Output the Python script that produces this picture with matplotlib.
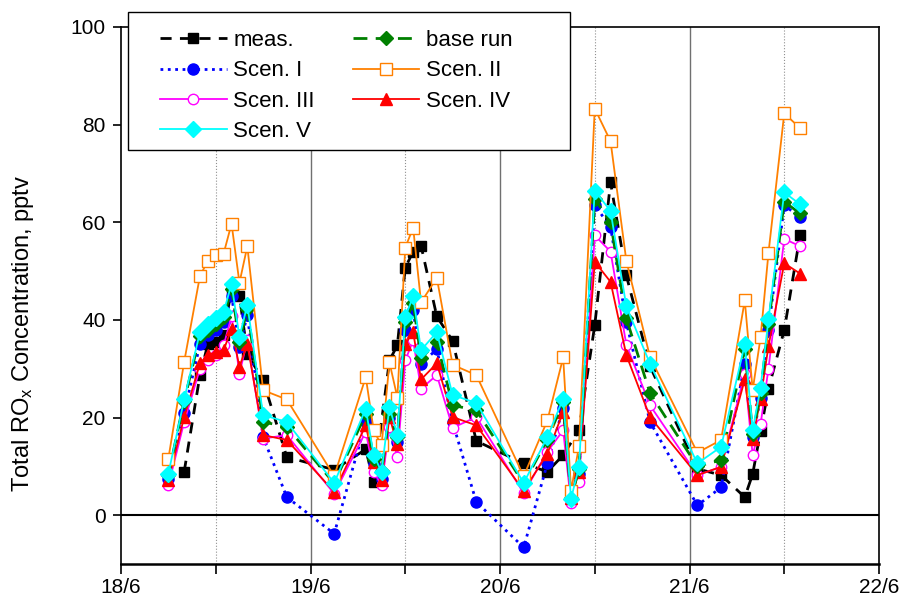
import matplotlib.pyplot as plt
import matplotlib.patches as mpatches
import numpy as np

plt.rcParams['font.family'] = ['Liberation Sans', 'DejaVu Sans']
plt.rcParams['mathtext.default'] = 'regular'

# model output times, hours since 18/6 00:00
t_mod = [6, 8, 10, 11, 12, 13, 14, 15, 16, 18, 21,
         27, 31, 32, 33, 34, 35, 36, 37, 38, 40, 42, 45,
         51, 54, 56, 57, 58, 60, 62, 64, 67,
         73, 76, 79, 80, 81, 82, 84, 86]

# measurement times
t_meas = [8, 10, 11, 12, 13, 14, 15, 16, 18, 21,
          27, 31, 32, 34, 35, 36, 37, 38, 40, 42, 45,
          51, 54, 56, 58, 60, 62, 64, 67,
          73, 76, 79, 80, 81, 82, 84, 86]

meas = [8.9, 28.7, 35.0, 35.5, 37.0, 46.4, 45.0, 33.0, 27.6, 11.9,
        9.3, 13.5, 6.8, 31.7, 34.8, 50.7, 54.0, 55.2, 40.7, 35.7, 15.2,
        10.6, 8.9, 12.3, 17.4, 38.9, 68.2, 49.1, 30.5,
        9.5, 8.2, 3.7, 8.4, 17.2, 25.9, 37.9, 57.3]

base_run = [8.3, 23.4, 36.8, 38.0, 39.2, 40.5, 46.4, 35.5, 42.3, 19.1, 18.1,
            6.5, 20.8, 11.5, 9.0, 20.8, 16.0, 39.5, 43.5, 32.1, 35.5, 22.5, 21.5,
            6.5, 15.5, 23.2, 3.5, 9.5, 64.8, 60.0, 40.3, 25.0,
            10.0, 11.3, 34.1, 16.7, 25.0, 39.2, 64.2, 61.8]

scen1 = [7.5, 21.0, 35.0, 37.0, 38.0, 39.5, 45.0, 34.5, 41.0, 16.0, 3.7,
         -3.8, 19.0, 10.5, 7.5, 20.0, 15.0, 38.0, 42.0, 31.0, 34.0, 19.0, 2.7,
         -6.6, 10.6, 22.0, 3.5, 8.5, 63.5, 59.0, 39.5, 19.1,
         2.0, 5.7, 31.0, 16.0, 24.0, 38.0, 63.5, 61.0]

scen2 = [11.6, 31.4, 49.0, 52.1, 53.2, 53.6, 59.7, 47.6, 55.1, 25.6, 23.7,
         8.0, 28.3, 17.4, 14.3, 31.3, 24.1, 54.8, 58.9, 43.6, 48.6, 30.8, 28.7,
         8.0, 19.4, 32.3, 5.0, 14.1, 83.3, 76.6, 52.1, 32.4,
         12.8, 15.4, 44.0, 25.6, 36.4, 53.7, 82.3, 79.3]

scen3 = [6.1, 19.1, 30.0, 31.7, 32.8, 34.8, 40.7, 29.0, 35.8, 15.7, 16.4,
         4.4, 17.1, 8.9, 6.1, 18.1, 11.9, 31.7, 35.8, 25.9, 28.7, 17.9, 20.1,
         4.5, 13.0, 17.4, 2.4, 6.8, 57.3, 54.0, 34.9, 22.5,
         8.2, 9.9, 29.0, 12.3, 18.6, 30.0, 56.6, 55.1]

scen4 = [7.2, 20.1, 31.1, 32.8, 33.4, 33.8, 38.2, 30.4, 35.1, 16.4, 15.4,
         4.8, 18.4, 10.9, 7.2, 20.1, 14.5, 35.1, 37.5, 27.8, 31.1, 20.1, 18.4,
         5.0, 12.6, 21.2, 3.5, 8.9, 51.9, 47.8, 32.8, 20.1,
         8.2, 9.9, 27.8, 15.7, 23.9, 34.6, 51.6, 49.5]

scen5 = [8.5, 23.7, 37.5, 39.2, 40.3, 41.6, 47.4, 36.5, 43.1, 20.5, 19.1,
         6.6, 21.8, 12.3, 8.9, 22.2, 16.4, 40.6, 44.8, 33.8, 37.5, 24.6, 23.0,
         6.6, 16.0, 23.9, 3.4, 9.9, 66.5, 62.3, 42.8, 31.0,
         10.6, 14.0, 35.0, 17.4, 26.1, 40.1, 66.1, 63.7]

day_ticks = [18, 19, 20, 21, 22]
day_labels = ['18/6', '19/6', '20/6', '21/6', '22/6']

# convert hours to day-of-month
x_mod = 18 + np.array(t_mod) / 24.0
x_meas = 18 + np.array(t_meas) / 24.0

fig = plt.figure(figsize=(9.01, 6.0), dpi=100)
ax = fig.add_axes([121 / 901, 0.06, 758 / 901, 0.895])

# day separators and noon lines
for d in [19, 20, 21]:
    ax.axvline(d, color='#707070', lw=1.0, zorder=0)
for d in [18.5, 19.5, 20.5, 21.5]:
    ax.axvline(d, color='#909090', lw=0.8, ls=':', zorder=0)
ax.axhline(0, color='black', lw=1.5, zorder=0)

l_meas, = ax.plot(x_meas, meas, color='black', lw=2, dashes=(4, 3),
                  marker='s', ms=7, mfc='black', mec='black', zorder=1)
l_s1, = ax.plot(x_mod, scen1, color='blue', lw=2, ls=':',
                marker='o', ms=8, mfc='blue', mec='blue', zorder=2)
l_s3, = ax.plot(x_mod, scen3, color='magenta', lw=1.3,
                marker='o', ms=7.5, mfc='white', mec='magenta', zorder=3)
l_s4, = ax.plot(x_mod, scen4, color='red', lw=1.3,
                marker='^', ms=9, mfc='red', mec='red', zorder=4)
l_base, = ax.plot(x_mod, base_run, color='green', lw=2, dashes=(5, 3),
                  marker='D', ms=7, mfc='green', mec='green', zorder=5)
l_s2, = ax.plot(x_mod, scen2, color='#ff8000', lw=1.3,
                marker='s', ms=8, mfc='white', mec='#ff8000', zorder=6)
l_s5, = ax.plot(x_mod, scen5, color='cyan', lw=1.3,
                marker='D', ms=8, mfc='cyan', mec='cyan', zorder=7)

ax.set_xlim(18, 22)
ax.set_ylim(-10, 100)
ax.set_xticks(day_ticks)
ax.set_xticklabels(day_labels)
ax.set_xticks([18.5, 19.5, 20.5, 21.5], minor=True)
ax.set_yticks([0, 20, 40, 60, 80, 100])
ax.tick_params(axis='both', which='both', direction='out', labelsize=15,
               width=1.2, top=False, right=False)
ax.tick_params(axis='x', which='major', length=7, pad=3)
ax.tick_params(axis='x', which='minor', length=7)
ax.tick_params(axis='y', length=6, pad=5)
for sp in ax.spines.values():
    sp.set_linewidth(1.2)
ax.spines['bottom'].set_linewidth(1.8)

ax.set_ylabel('Total RO$_x$ Concentration, pptv', fontsize=17)
ax.yaxis.set_label_coords(-0.112, 0.43)

# legend frame drawn separately so its size matches the original
frame = mpatches.Rectangle((128 / 901, 1 - 150 / 600), 442 / 901, 138 / 600,
                           transform=fig.transFigure, facecolor='white',
                           edgecolor='black', lw=1.0, zorder=9, clip_on=False)
ax.add_patch(frame)

handles = [l_meas, l_s1, l_s3, l_s5, l_base, l_s2, l_s4]
labels = ['meas.', 'Scen. I', 'Scen. III', 'Scen. V', 'base run', 'Scen. II', 'Scen. IV']
leg = ax.legend(handles, labels, ncol=2, loc='upper left',
                bbox_to_anchor=((160 - 121) / 758, (564 - 30) / 537),
                borderaxespad=0, borderpad=0, frameon=False,
                fontsize=16, numpoints=1, handlelength=3.0, handletextpad=0.3,
                labelspacing=0.42, columnspacing=1.7)
leg.set_zorder(10)

plt.savefig('out.png', dpi=100)
